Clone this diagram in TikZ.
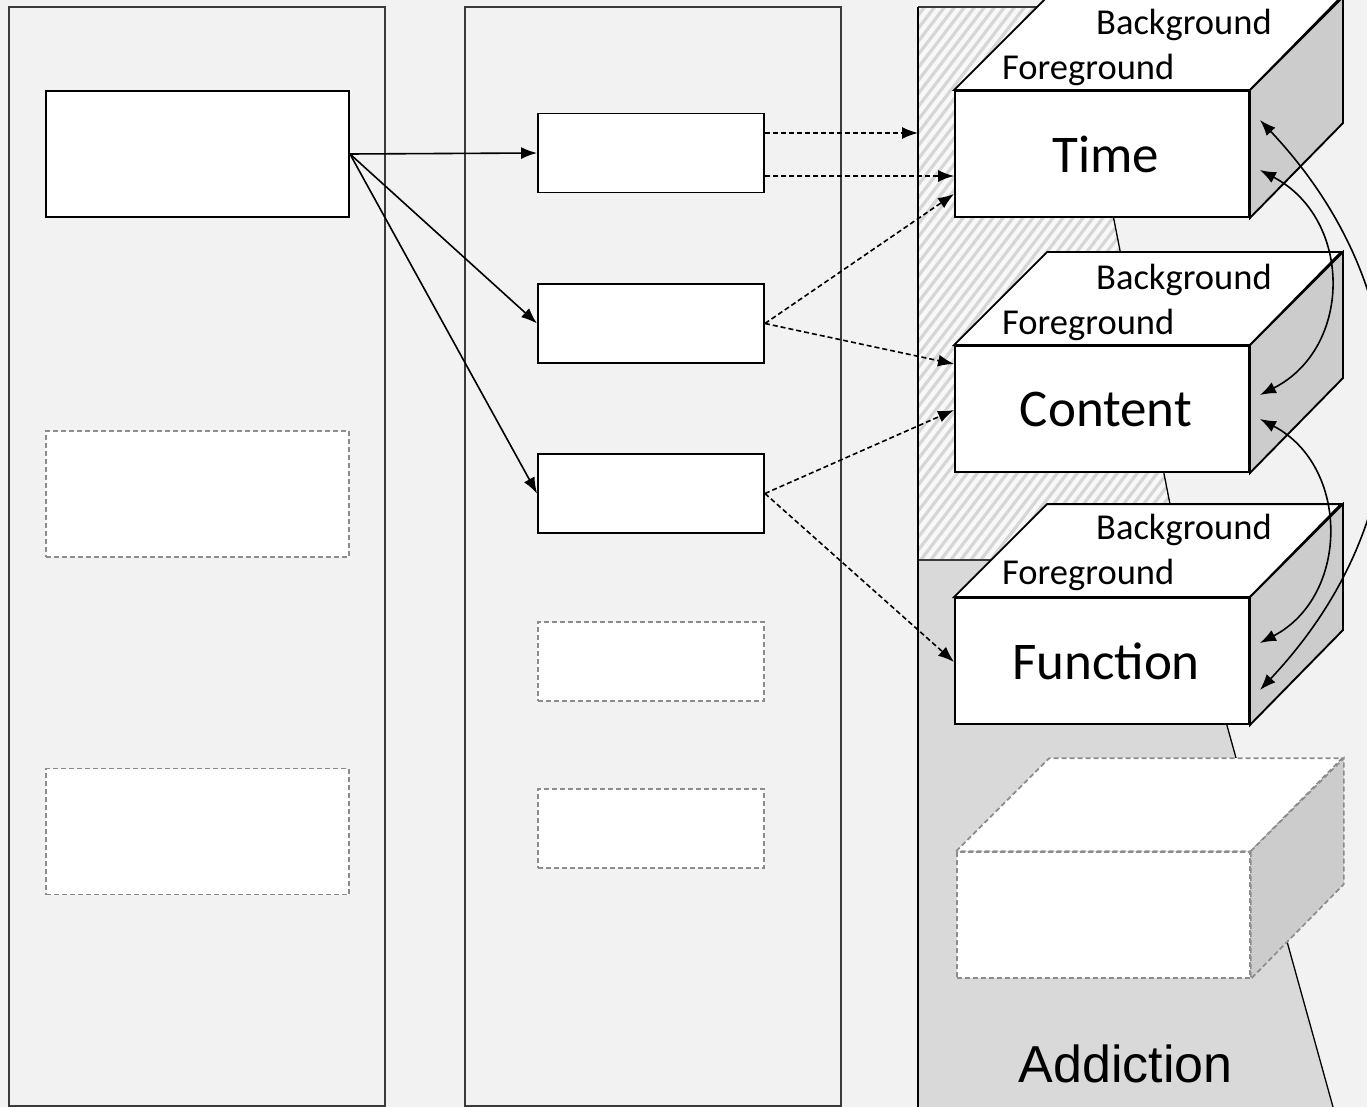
\documentclass[tikz,border=0pt]{standalone}
\usepackage{fontspec}
\setmainfont{Carlito}
\newfontfamily\arialf{Liberation Sans}
\usetikzlibrary{arrows.meta}
\definecolor{bgc}{HTML}{F2F2F2}
\definecolor{regiongray}{HTML}{D9D9D9}
\definecolor{sidegray}{HTML}{CCCCCC}
\definecolor{dashgray}{HTML}{8C8C8C}
\definecolor{stripegray}{HTML}{D6D6D6}
\definecolor{hatchbase}{HTML}{F8F8F8}
\definecolor{colline}{HTML}{3A3A3A}
\begin{document}
\begin{tikzpicture}[x=1pt,y=-1pt,
  colbox/.style={draw=colline, line width=1.3pt, fill=bgc, inner sep=0pt, minimum width=376pt, minimum height=1099pt},
  solidbox/.style={draw=black, line width=1.9pt, fill=white, inner sep=0pt},
  dashbox/.style={draw=dashgray, line width=1.7pt, fill=white, dash pattern=on 5pt off 3pt, inner sep=0pt},
  bigbox/.style={minimum width=303pt, minimum height=126pt},
  smallbox/.style={minimum width=226pt, minimum height=79pt},
  cubefront/.style={draw=black, line width=1.9pt, fill=white, inner sep=0pt, minimum width=294pt, minimum height=126pt, font=\fontsize{53}{60}\selectfont},
  cubeline/.style={draw=black, line width=1.9pt, line join=miter},
  dcubeline/.style={draw=dashgray, line width=1.7pt, dash pattern=on 5pt off 3pt},
  lbl/.style={inner sep=0pt, font=\fontsize{36.5}{40}\selectfont},
  arr/.style={draw=black, line width=1.6pt, -{Latex[length=16pt,width=12pt]}},
  darr/.style={arr, dash pattern=on 5pt off 3pt},
  barr/.style={draw=black, line width=1.6pt, {Latex[length=16pt,width=12pt]}-{Latex[length=16pt,width=12pt]}},
  stripe/.style={draw=stripegray, line width=3.2pt}
]
\fill[bgc] (0,0) rectangle (1367,1107);
\useasboundingbox (0,0) rectangle (1367,1107);

% columns
\node[colbox] (col1) at (197,556.5) {};
\node[colbox] (col2) at (653,556.5) {};

% third column: hatched upper part and grey lower part
\fill[hatchbase] (918,7) -- (1072,7) -- (1181,560) -- (918,560) -- cycle;
\begin{scope}
  \clip (918,7) -- (1072,7) -- (1181,560) -- (918,560) -- cycle;
  \foreach \x in {300,310,...,1300} \draw[stripe] (\x,600) -- ++(460,-600);
\end{scope}
\fill[regiongray] (918,560) -- (1181,560) -- (1333,1107) -- (918,1107) -- cycle;
\draw[colline, line width=1.3pt] (918,7) -- (1072,7);
\draw[colline, line width=1.3pt] (918,560) -- (1181,560);
\draw[black, line width=1.3pt] (1072,7) -- (1181,560) -- (1333,1107);
\draw[black, line width=1.6pt] (918,7) -- (918,1107);

% column 1 boxes
\node[solidbox, bigbox] (a1) at (197.5,154) {};
\node[dashbox, bigbox] (a2) at (197.5,494) {};
\node[dashbox, bigbox] (a3) at (197.5,831.5) {};

% column 2 boxes
\node[solidbox, smallbox] (b1) at (651,153) {};
\node[solidbox, smallbox] (b2) at (651,323.5) {};
\node[solidbox, smallbox] (b3) at (651,493.5) {};
\node[dashbox, smallbox] (b4) at (651,661.5) {};
\node[dashbox, smallbox] (b5) at (651,828.5) {};

% cubes
\foreach \nm/\cy/\txt in {t/154/Time, c/409/Content, f/661/Function}{
  \node[cubefront] (\nm) at (1102,\cy) {\hspace*{8pt}\txt};
  \draw[cubeline, fill=white] (\nm.north west) -- ++(93,-93) -- ++(294,0) -- (\nm.north east) -- cycle;
  \draw[cubeline, fill=sidegray] (\nm.north east) -- ++(93,-93) -- ++(0,126) -- (\nm.south east) -- cycle;
}
\node[lbl, anchor=base west] (tbg) at (1096,35) {Background};
\node[lbl, anchor=base west] (tfg) at (1002,80) {Foreground};
\node[lbl, anchor=base west] (cbg) at (1096,289) {Background};
\node[lbl, anchor=base west] (cfg) at (1002,334) {Foreground};
\node[lbl, anchor=base west] (fbg) at (1096,539) {Background};
\node[lbl, anchor=base west] (ffg) at (1002,584) {Foreground};

% dashed cube
\node[dashbox, minimum width=293pt, minimum height=126pt] (d) at (1103.5,915) {};
\draw[dcubeline, fill=white] (d.north west) -- ++(93,-93) -- ++(293,0) -- (d.north east) -- cycle;
\draw[dcubeline, fill=sidegray] (d.north east) -- ++(93,-93) -- ++(0,126) -- (d.south east) -- cycle;

\node[inner sep=0pt, anchor=base, font=\arialf\fontsize{52}{60}\selectfont] (add) at (1125.5,1082) {Addiction};

% solid arrows
\draw[arr] (a1.east) -- (b1.west);
\draw[arr] (a1.east) -- (b2.west);
\draw[arr] (a1.east) -- (b3.west);

% dashed arrows
\coordinate (edge3) at (918,133);
\draw[darr] ([yshift=20pt]b1.east) -- (edge3);
\draw[darr] ([yshift=-23pt]b1.east) -- ([yshift=-22pt]t.west);
\draw[darr] (b2.east) -- ([yshift=-40pt]t.west);
\draw[darr] (b2.east) -- ([yshift=45pt]c.west);
\draw[darr] (b3.east) -- ([yshift=-1pt]c.west);
\draw[darr] (b3.east) -- ([yshift=-1pt]f.west);

% curved double arrows
\draw[barr] ([xshift=10pt,yshift=-16pt]t.east) .. controls +(93,49) and +(93,-47) .. ([xshift=10pt,yshift=14pt]c.east);
\draw[barr] ([xshift=10pt,yshift=-10pt]c.east) .. controls +(90,47) and +(90,-47) .. ([xshift=10pt,yshift=18pt]f.east);
\draw[barr] ([xshift=10pt,yshift=34pt]t.east) .. controls +(165,175) and +(165,-175) .. ([xshift=10pt,yshift=-29pt]f.east);
\end{tikzpicture}
\end{document}
